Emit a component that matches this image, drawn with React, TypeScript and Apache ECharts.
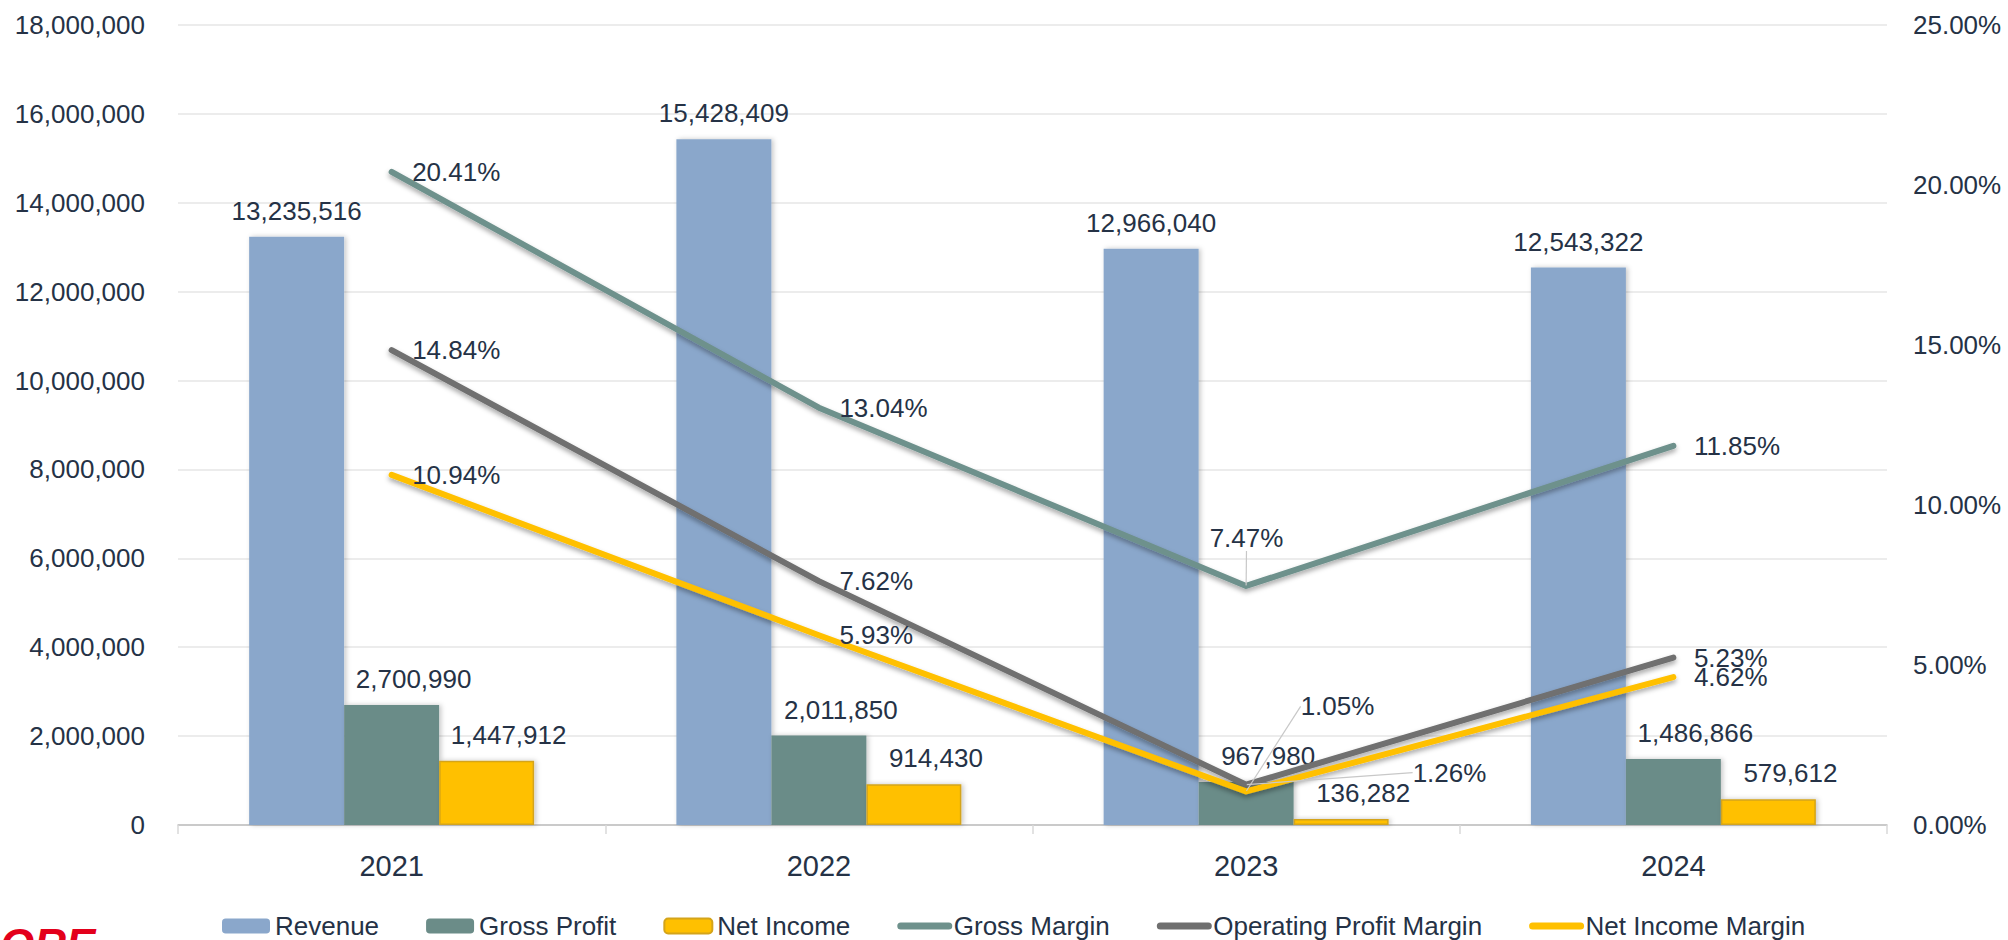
import React, { useEffect, useRef } from "react";
import * as echarts from "echarts";

const categories = ["2021", "2022", "2023", "2024"];
const revenue = [13235516, 15428409, 12966040, 12543322];
const grossProfit = [2700990, 2011850, 967980, 1486866];
const netIncome = [1447912, 914430, 136282, 579612];
const grossMargin = [20.41, 13.04, 7.47, 11.85];
const operatingMargin = [14.84, 7.62, 1.26, 5.23];
const netIncomeMargin = [10.94, 5.93, 1.05, 4.62];

const TEXT = "#253246";
const FONT = "Liberation Sans, Arial, sans-serif";

const fmtNum = (v: number) => Math.round(v).toLocaleString("en-US");
const fmtPct = (v: number) => v.toFixed(2) + "%";

const leaderLine = { show: true, lineStyle: { color: "#c8c8c8", width: 1.2 } };

function withLeader(values: number[], idx: number) {
  return values.map((v, i) => (i === idx ? { value: v, labelLine: leaderLine } : v));
}

export default function App() {
  const ref = useRef<HTMLDivElement>(null);
  useEffect(() => {
    document.body.style.margin = "0";
    const chart = echarts.init(ref.current!, null, { renderer: "svg" });
    const barLabel = (offset: number[]) => ({
      show: true,
      position: "top",
      distance: 13,
      offset,
      fontSize: 26,
      fontFamily: FONT,
      color: TEXT,
      formatter: (p: any) => fmtNum(p.value),
    });
    const lineLabel = {
      show: true,
      position: "right",
      distance: 20,
      fontSize: 26,
      fontFamily: FONT,
      color: TEXT,
      formatter: (p: any) => fmtPct(p.value),
    };
    const barShadow = {
      shadowColor: "rgba(0,0,0,0.22)",
      shadowBlur: 5,
      shadowOffsetX: 2,
      shadowOffsetY: 0,
    };
    const lineShadow = {
      shadowColor: "rgba(0,0,0,0.35)",
      shadowBlur: 5,
      shadowOffsetX: 0,
      shadowOffsetY: 3,
    };
    const moved = (dx: number, dy: number) => (p: any) =>
      p.dataIndex === 2 ? { dx, dy } : {};
    const lineSeries = (
      name: string,
      color: string,
      values: number[],
      dx: number,
      dy: number
    ) => ({
      name,
      type: "line",
      yAxisIndex: 1,
      data: withLeader(values, 2),
      symbol: "circle",
      symbolSize: 1,
      showSymbol: true,
      itemStyle: { color },
      lineStyle: { color, width: 6, cap: "round", join: "round", ...lineShadow },
      label: lineLabel,
      labelLayout: moved(dx, dy),
      z: 5,
    });
    const legendLine = (name: string, color: string) => ({
      name,
      itemStyle: { opacity: 0 },
      lineStyle: { width: 7, color, cap: "round", shadowBlur: 0 },
    });

    chart.setOption({
      animation: false,
      backgroundColor: "#ffffff",
      textStyle: { fontFamily: FONT },
      grid: { left: 178, right: 121, top: 25, bottom: 115, containLabel: false },
      legend: {
        left: 217,
        top: 908,
        itemGap: 47,
        itemWidth: 48,
        itemHeight: 15,
        textStyle: { fontSize: 26, color: TEXT, fontFamily: FONT },
        data: [
          { name: "Revenue" },
          { name: "Gross Profit" },
          { name: "Net Income" },
          legendLine("Gross Margin", "#6E918C"),
          legendLine("Operating Profit Margin", "#6F6F6F"),
          legendLine("Net Income Margin", "#FFC000"),
        ],
      },
      xAxis: {
        type: "category",
        data: categories,
        boundaryGap: true,
        axisLine: { lineStyle: { color: "#bfbfbf", width: 1.5 } },
        axisTick: { show: true, length: 9, lineStyle: { color: "#d9d9d9", width: 1.5 } },
        axisLabel: { fontSize: 29, color: TEXT, margin: 26, fontFamily: FONT },
      },
      yAxis: [
        {
          type: "value",
          min: 0,
          max: 18000000,
          interval: 2000000,
          axisLine: { show: false },
          axisTick: { show: false },
          splitLine: { lineStyle: { color: "#e6e6e6", width: 1.5 } },
          axisLabel: {
            fontSize: 26,
            color: TEXT,
            margin: 33,
            fontFamily: FONT,
            formatter: (v: number) => fmtNum(v),
          },
        },
        {
          type: "value",
          min: 0,
          max: 25,
          interval: 5,
          axisLine: { show: false },
          axisTick: { show: false },
          splitLine: { show: false },
          axisLabel: {
            fontSize: 26,
            color: TEXT,
            margin: 26,
            fontFamily: FONT,
            formatter: (v: number) => fmtPct(v),
          },
        },
      ],
      series: [
        {
          name: "Revenue",
          type: "bar",
          data: revenue,
          barGap: "0%",
          barCategoryGap: "33.3%",
          itemStyle: { color: "#8AA7CB", ...barShadow },
          label: barLabel([0, 0]),
          z: 2,
        },
        {
          name: "Gross Profit",
          type: "bar",
          data: grossProfit,
          barGap: "0%",
          barCategoryGap: "33.3%",
          itemStyle: { color: "#6B8C88", ...barShadow },
          label: barLabel([22, 0]),
          z: 2,
        },
        {
          name: "Net Income",
          type: "bar",
          data: netIncome,
          barGap: "0%",
          barCategoryGap: "33.3%",
          itemStyle: {
            color: "#FFC000",
            borderColor: "#D4A41A",
            borderWidth: 1.5,
            ...barShadow,
          },
          label: barLabel([22, 0]),
          z: 2,
        },
        lineSeries("Gross Margin", "#6E918C", grossMargin, -57, -48),
        lineSeries("Operating Profit Margin", "#6F6F6F", operatingMargin, 146, -12),
        lineSeries("Net Income Margin", "#FFC000", netIncomeMargin, 34, -85),
      ],
      graphic: [
        {
          type: "text",
          left: 0,
          top: 922,
          silent: true,
          style: {
            text: "ORE",
            font: "italic bold 44px Liberation Sans, Arial, sans-serif",
            fill: "#E3001B",
          },
        },
      ],
    });
    return () => chart.dispose();
  }, []);
  return (
    <div
      ref={ref}
      style={{ position: "absolute", left: 0, top: 0, width: 2008, height: 940 }}
    />
  );
}
